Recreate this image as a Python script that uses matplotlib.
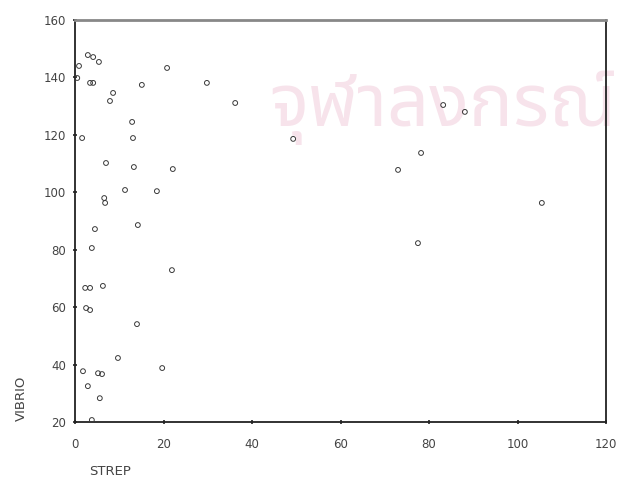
import matplotlib
matplotlib.use("Agg")
import matplotlib.pyplot as plt

# STREP vs VIBRIO scatter
strep = [2.9, 4.1, 5.4, 0.9, 0.5, 3.4, 4.1, 8.6, 7.9, 12.9, 13.1, 1.6,
         20.8, 15.1, 29.8, 36.2, 49.3, 7.0, 13.3, 22.1, 11.3, 18.5, 6.6, 6.8,
         14.2, 4.5, 3.8, 21.9, 2.3, 3.4, 6.3, 2.5, 3.4, 14.0, 9.7, 19.7,
         1.8, 5.2, 6.1, 2.9, 5.6, 3.8, 83.2, 88.1, 78.2, 73.0, 105.5, 77.5]
vibrio = [147.8, 147.1, 145.4, 144.0, 139.8, 138.1, 138.1, 134.6, 131.8, 124.5, 118.9, 118.9,
          143.3, 137.4, 138.1, 131.1, 118.6, 110.2, 108.8, 108.1, 100.8, 100.4, 98.0, 96.3,
          88.6, 87.2, 80.6, 72.9, 66.7, 66.7, 67.4, 59.7, 59.0, 54.1, 42.3, 38.8,
          37.7, 37.0, 36.7, 32.5, 28.3, 20.7, 130.4, 128.0, 113.7, 107.8, 96.3, 82.3]

xticks = [0, 20, 40, 60, 80, 100, 120]
yticks = [20, 40, 60, 80, 100, 120, 140, 160]

fig = plt.figure(figsize=(6.18, 4.94), dpi=100)
ax = fig.add_axes([0.1214, 0.1457, 0.8592, 0.8138])

# faint watermark from the scanned page, kept behind the axes
fig.text(0.435, 0.745, "จุฬาลงกรณ์", fontsize=53, color="#f7e3eb",
         ha="left", va="baseline", zorder=-1,
         family=["Noto Sans Thai", "Noto Sans", "DejaVu Sans"])

ax.scatter(strep, vibrio, s=12, facecolors="none", edgecolors="#3a3a3a",
           linewidths=0.7, zorder=3)

ax.set_xlim(0, 120)
ax.set_ylim(20, 160)
ax.set_xticks(xticks)
ax.set_yticks(yticks)
ax.tick_params(direction="inout", length=3, width=1.2, colors="#222222",
               labelsize=8.5, labelcolor="#444444")
ax.tick_params(axis="x", pad=10)
ax.tick_params(axis="y", pad=5)
ax.patch.set_alpha(0)

for side in ["left", "bottom", "right"]:
    ax.spines[side].set_linewidth(1.3)
    ax.spines[side].set_color("#222222")
ax.spines["top"].set_linewidth(2)
ax.spines["top"].set_color("#888888")

fig.text(0.034, 0.194, "VIBRIO", rotation=90, fontsize=9.5,
         color="#444444", ha="center", va="center")
fig.text(0.178, 0.045, "STREP", fontsize=9.5, color="#444444",
         ha="center", va="center")

plt.savefig("out.png", dpi=100)
